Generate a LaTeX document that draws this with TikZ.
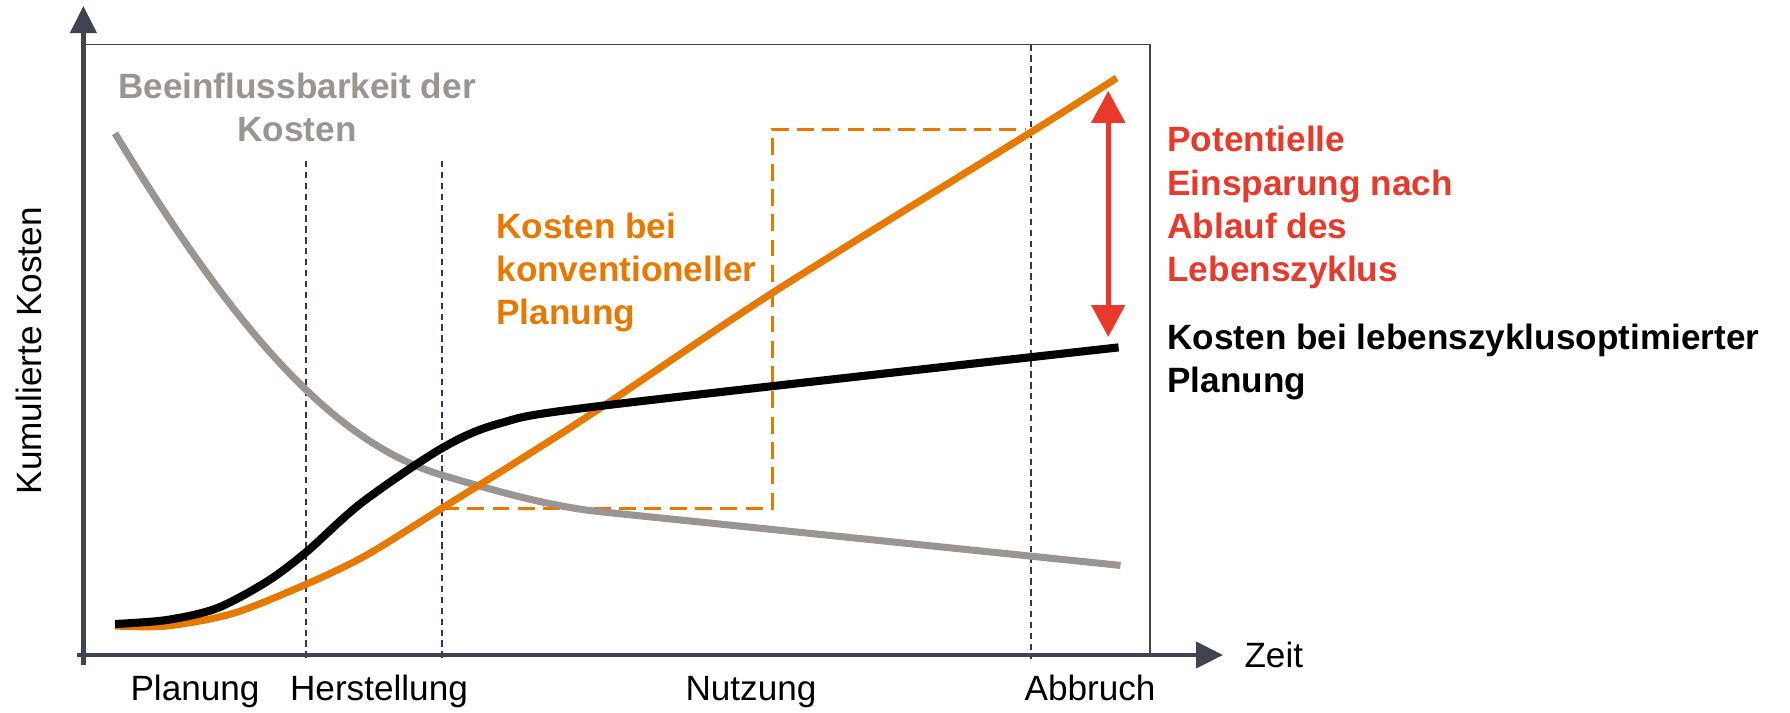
\documentclass[tikz,border=0pt]{standalone}
\usepackage{fontspec}
\setmainfont{Liberation Sans}
\usetikzlibrary{arrows.meta}
\definecolor{achse}{HTML}{3F4450}
\definecolor{strich}{HTML}{2E3A55}
\definecolor{grau}{HTML}{9A9591}
\definecolor{konvorange}{HTML}{E87800}
\definecolor{rot}{HTML}{E8392A}
\begin{document}
\begin{tikzpicture}[line width=0.7mm,
  phase/.style={strich,line width=0.6pt,dash pattern=on 1.8pt off 1.3pt},
  txt/.style={font=\fontsize{10pt}{12.2pt}\selectfont,inner sep=0pt},
  fett/.style={font=\fontsize{10pt}{12.3pt}\selectfont\bfseries,inner sep=0pt,align=left}]
  \useasboundingbox (0,0) rectangle (17.9,7.12);
  \coordinate (o) at (0.834,0.57);
  \coordinate (xstart) at (0.77,0.57);
  \coordinate (xend) at (12.23,0.57);
  \coordinate (ystart) at (0.834,0.47);
  \coordinate (yend) at (0.834,7.06);
  \coordinate (rahmen) at (11.50,6.675);
  % phasen
  \draw[phase] (3.062,5.51) -- (3.062,0.53);
  \draw[phase] (4.42,5.51) -- (4.42,0.53);
  \draw[phase] (10.313,6.675) -- (10.313,0.53);
  % rahmen und achsen
  \draw[achse,line width=0.5pt] (o) rectangle (rahmen);
  \draw[achse,line width=1.2pt,-{Triangle[length=2.7mm,width=2.6mm]}] (xstart) -- (xend);
  \draw[achse,line width=1.2pt,-{Triangle[length=2.7mm,width=2.6mm]}] (ystart) -- (yend);
  % kurven
  \draw[konvorange,line width=0.9pt,dash pattern=on 4.8pt off 2.4pt]
    (4.42,2.037) -- (7.722,2.037) -- (7.722,5.826) -- (10.25,5.826);
  \draw[grau,line width=2pt] (1.15,5.787) .. controls (2.45,3.64) and (3.417,2.67) .. (4.417,2.37)
    .. controls (4.917,2.22) and (5.5,2.055) .. (6.0,2.003) -- (11.205,1.466);
  \draw[konvorange,line width=2pt] plot[smooth,tension=0.5] coordinates
    {(1.15,0.86) (1.667,0.86) (2.333,0.987) (3.067,1.28) (3.667,1.57) (4.417,2.037) (5.167,2.503)
     (6.0,3.037) (7.722,4.19) (10.313,5.80) (11.166,6.34)};
  \draw[black,line width=2.3pt] plot[smooth,tension=0.5] coordinates
    {(1.15,0.88) (1.667,0.92) (2.167,1.037) (2.667,1.303) (3.067,1.603) (3.617,2.093)
     (4.417,2.637) (5.0,2.887) (6.0,3.06) (11.186,3.646)};
  % einsparung
  \coordinate (sparOben) at (11.082,6.212);
  \coordinate (sparUnten) at (11.082,3.75);
  \draw[rot,line width=1.5pt,{Triangle[length=3.2mm,width=3.3mm]}-{Triangle[length=3.2mm,width=3.3mm]}] (sparOben) -- (sparUnten);
  % beschriftung (base = letzte zeile)
  \node[fett,grau,align=center,anchor=base] (einfluss) at (2.97,5.703) {Beeinflussbarkeit der\\Kosten};
  \node[fett,konvorange,anchor=base west] (konv) at (4.93,3.873) {Kosten bei\\konventioneller\\Planung};
  \node[fett,rot,anchor=base west] (einsparung) at (11.64,4.304) {Potentielle\\Einsparung nach\\Ablauf des\\Lebenszyklus};
  \node[fett,black,anchor=base west] (optimiert) at (11.64,3.192) {Kosten bei lebenszyklusoptimierter\\Planung};
  \node[txt,rotate=90] (kumuliert) at (0.287,3.612) {Kumulierte Kosten};
  \node[txt,anchor=base west] (zeit) at (12.41,0.444) {Zeit};
  \node[txt,anchor=base] (planung) at (1.95,0.12) {Planung};
  \node[txt,anchor=base] (herstellung) at (3.79,0.12) {Herstellung};
  \node[txt,anchor=base] (nutzung) at (7.51,0.12) {Nutzung};
  \node[txt,anchor=base] (abbruch) at (10.9,0.12) {Abbruch};
\end{tikzpicture}
\end{document}
